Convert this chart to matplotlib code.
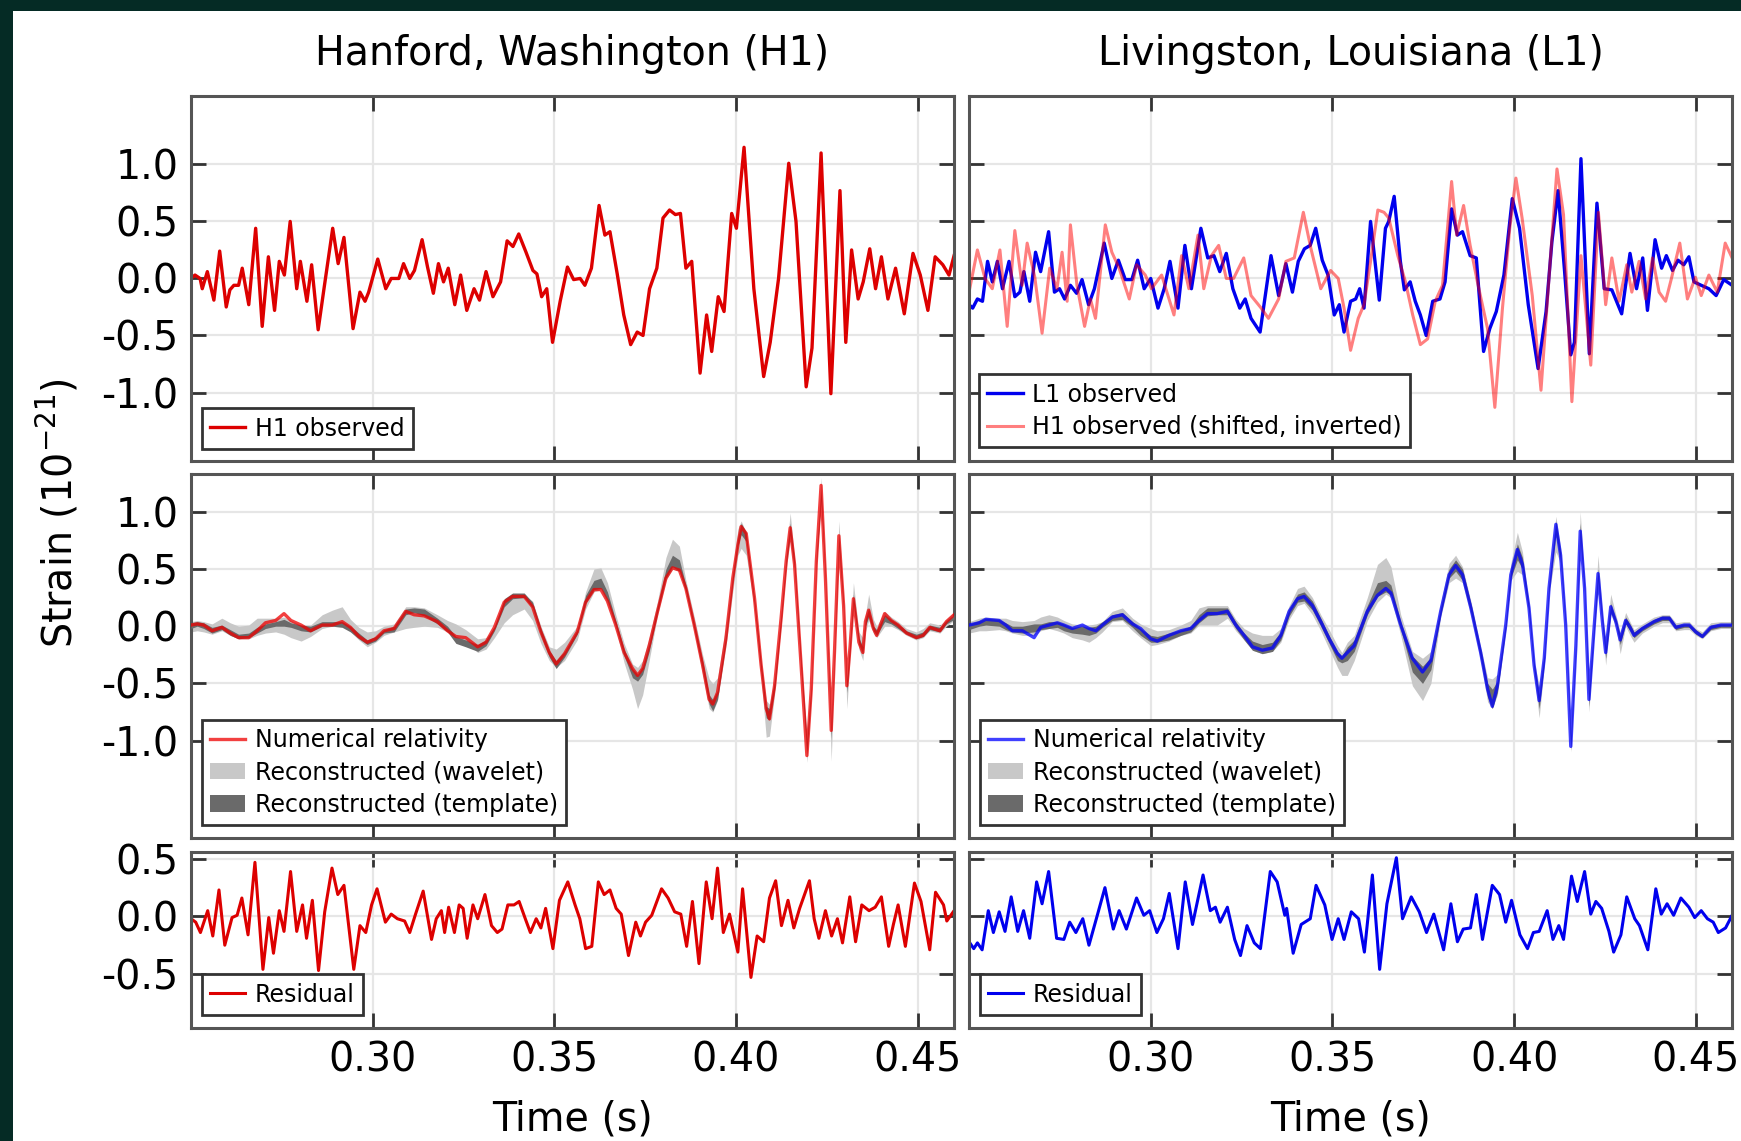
import numpy as np
import matplotlib
matplotlib.use('Agg')
import matplotlib.pyplot as plt
from matplotlib.patches import Rectangle
from matplotlib.ticker import FormatStrFormatter

plt.rcParams['font.family'] = ['DejaVu Sans']
plt.rcParams['axes.unicode_minus'] = False

# ---------------- data (strain in 1e-21, time in s) ----------------
titles = ['Hanford, Washington (H1)', 'Livingston, Louisiana (L1)']
xticks = [0.30, 0.35, 0.40, 0.45]

# top left: H1 observed
h1_obs_t = [0.2500, 0.2511, 0.2525, 0.2531, 0.2545, 0.2563, 0.2579, 0.2597, 0.2607, 0.2618,
            0.2631, 0.2641, 0.2659, 0.2678, 0.2696, 0.2713, 0.2730, 0.2743, 0.2757, 0.2773,
            0.2791, 0.2801, 0.2819, 0.2832, 0.2850, 0.2866, 0.2890, 0.2905, 0.2921, 0.2946,
            0.2965, 0.2979, 0.2989, 0.3014, 0.3036, 0.3051, 0.3072, 0.3085, 0.3102, 0.3115,
            0.3136, 0.3151, 0.3167, 0.3181, 0.3195, 0.3208, 0.3226, 0.3242, 0.3259, 0.3279,
            0.3294, 0.3312, 0.3331, 0.3352, 0.3370, 0.3386, 0.3402, 0.3422, 0.3441, 0.3452,
            0.3465, 0.3479, 0.3495, 0.3516, 0.3536, 0.3553, 0.3571, 0.3584, 0.3602, 0.3623,
            0.3639, 0.3653, 0.3673, 0.3691, 0.3710, 0.3728, 0.3744, 0.3762, 0.3782, 0.3799,
            0.3817, 0.3833, 0.3847, 0.3862, 0.3878, 0.3901, 0.3919, 0.3933, 0.3951, 0.3967,
            0.3988, 0.4001, 0.4022, 0.4049, 0.4076, 0.4094, 0.4117, 0.4145, 0.4165, 0.4193,
            0.4209, 0.4234, 0.4261, 0.4286, 0.4302, 0.4318, 0.4336, 0.4350, 0.4368, 0.4384,
            0.4400, 0.4418, 0.4439, 0.4463, 0.4487, 0.4507, 0.4528, 0.4548, 0.4569, 0.4586,
            0.4600]
h1_obs = [0.00, 0.03, 0.00, -0.09, 0.06, -0.19, 0.24, -0.25, -0.10, -0.06,
          -0.06, 0.09, -0.23, 0.44, -0.42, 0.19, -0.28, 0.15, 0.03, 0.50,
          -0.09, 0.15, -0.20, 0.12, -0.45, -0.09, 0.44, 0.13, 0.36, -0.44,
          -0.12, -0.20, -0.12, 0.17, -0.09, 0.00, 0.00, 0.13, 0.00, 0.07,
          0.34, 0.10, -0.13, 0.13, -0.03, 0.09, -0.23, 0.03, -0.28, -0.09,
          -0.19, 0.06, -0.16, -0.03, 0.33, 0.28, 0.39, 0.23, 0.07, 0.04,
          -0.16, -0.09, -0.56, -0.20, 0.10, -0.01, 0.00, -0.06, 0.09, 0.64,
          0.38, 0.41, 0.04, -0.32, -0.58, -0.47, -0.50, -0.09, 0.09, 0.53,
          0.60, 0.56, 0.57, 0.09, 0.15, -0.83, -0.32, -0.64, -0.16, -0.29,
          0.57, 0.44, 1.15, -0.09, -0.86, -0.56, 0.00, 1.01, 0.50, -0.95,
          -0.61, 1.10, -1.01, 0.77, -0.56, 0.25, -0.18, -0.03, 0.26, -0.09,
          0.19, -0.18, 0.09, -0.31, 0.22, 0.03, -0.28, 0.19, 0.12, 0.03,
          0.20]

# top right: L1 observed
l1_obs_t = [0.2500, 0.2510, 0.2523, 0.2537, 0.2551, 0.2564, 0.2578, 0.2592, 0.2610, 0.2626,
            0.2640, 0.2651, 0.2667, 0.2683, 0.2697, 0.2719, 0.2735, 0.2749, 0.2763, 0.2779,
            0.2796, 0.2811, 0.2829, 0.2845, 0.2872, 0.2893, 0.2911, 0.2930, 0.2948, 0.2964,
            0.2982, 0.3000, 0.3020, 0.3037, 0.3053, 0.3075, 0.3094, 0.3112, 0.3138, 0.3157,
            0.3174, 0.3190, 0.3208, 0.3226, 0.3245, 0.3260, 0.3276, 0.3301, 0.3313, 0.3331,
            0.3352, 0.3372, 0.3390, 0.3406, 0.3423, 0.3439, 0.3454, 0.3472, 0.3488, 0.3505,
            0.3519, 0.3532, 0.3550, 0.3564, 0.3575, 0.3587, 0.3605, 0.3629, 0.3646, 0.3655,
            0.3670, 0.3687, 0.3698, 0.3714, 0.3728, 0.3742, 0.3758, 0.3776, 0.3796, 0.3810,
            0.3828, 0.3844, 0.3858, 0.3879, 0.3896, 0.3916, 0.3933, 0.3951, 0.3972, 0.3995,
            0.4015, 0.4039, 0.4066, 0.4088, 0.4104, 0.4121, 0.4139, 0.4156, 0.4166, 0.4184,
            0.4207, 0.4228, 0.4248, 0.4269, 0.4296, 0.4319, 0.4337, 0.4354, 0.4367, 0.4388,
            0.4406, 0.4419, 0.4436, 0.4451, 0.4467, 0.4481, 0.4495, 0.4515, 0.4536, 0.4556,
            0.4577, 0.4600]
l1_obs = [-0.23, -0.26, -0.18, -0.20, 0.15, -0.03, 0.15, -0.09, 0.15, -0.16,
          -0.12, 0.06, -0.20, 0.23, 0.06, 0.41, -0.12, -0.09, -0.18, -0.06,
          -0.13, -0.01, -0.23, -0.09, 0.31, 0.00, 0.16, -0.01, -0.01, 0.16,
          -0.09, 0.00, -0.26, -0.09, 0.15, -0.26, 0.29, -0.09, 0.44, 0.18,
          0.20, 0.06, 0.22, -0.09, -0.26, -0.18, -0.35, -0.47, -0.20, 0.20,
          -0.15, 0.13, -0.12, 0.15, 0.26, 0.29, 0.44, 0.16, 0.03, -0.32,
          -0.23, -0.47, -0.20, -0.18, -0.09, -0.26, 0.50, -0.19, 0.44, 0.50,
          0.72, 0.15, -0.10, -0.03, -0.20, -0.32, -0.50, -0.20, -0.18, -0.03,
          0.61, 0.38, 0.41, 0.20, 0.18, -0.64, -0.44, -0.29, 0.03, 0.70,
          0.44, -0.23, -0.79, -0.29, 0.32, 0.77, 0.06, -0.67, -0.56, 1.05,
          -0.66, 0.66, -0.09, -0.10, -0.31, 0.22, -0.09, 0.18, -0.28, 0.34,
          0.09, 0.20, 0.07, 0.16, 0.12, 0.19, -0.03, -0.06, -0.09, -0.15,
          -0.01, -0.06]

# top right: H1 observed, shifted and inverted
h1_shift_t = [0.2500, 0.2523, 0.2544, 0.2564, 0.2585, 0.2605, 0.2626, 0.2646, 0.2660, 0.2681,
              0.2701, 0.2722, 0.2742, 0.2756, 0.2770, 0.2779, 0.2797, 0.2818, 0.2834, 0.2848,
              0.2875, 0.2893, 0.2913, 0.2941, 0.2961, 0.2985, 0.3002, 0.3030, 0.3064, 0.3085,
              0.3105, 0.3130, 0.3146, 0.3167, 0.3187, 0.3208, 0.3228, 0.3256, 0.3276, 0.3304,
              0.3324, 0.3352, 0.3372, 0.3395, 0.3420, 0.3441, 0.3468, 0.3495, 0.3516, 0.3532,
              0.3550, 0.3571, 0.3587, 0.3605, 0.3625, 0.3642, 0.3655, 0.3680, 0.3701, 0.3721,
              0.3742, 0.3762, 0.3783, 0.3803, 0.3828, 0.3842, 0.3861, 0.3879, 0.3899, 0.3927,
              0.3947, 0.3968, 0.3988, 0.4005, 0.4022, 0.4050, 0.4074, 0.4098, 0.4118, 0.4136,
              0.4159, 0.4184, 0.4211, 0.4232, 0.4252, 0.4269, 0.4289, 0.4310, 0.4324, 0.4344,
              0.4362, 0.4381, 0.4399, 0.4417, 0.4433, 0.4456, 0.4477, 0.4499, 0.4515, 0.4536,
              0.4559, 0.4581, 0.4600]
h1_shift = [-0.12, 0.25, 0.00, -0.09, 0.25, -0.42, 0.42, -0.06, 0.31, 0.01,
            -0.48, 0.09, -0.09, 0.23, -0.20, 0.47, -0.06, -0.42, -0.18, -0.35,
            0.47, 0.23, 0.09, -0.18, 0.12, 0.03, -0.09, 0.03, -0.32, 0.20,
            -0.09, 0.38, -0.09, 0.20, 0.29, 0.00, 0.00, 0.18, -0.15, -0.26,
            -0.35, -0.18, 0.15, 0.18, 0.58, 0.26, -0.09, 0.07, 0.00, -0.26,
            -0.63, -0.35, -0.23, 0.15, 0.60, 0.58, 0.53, 0.20, -0.03, -0.32,
            -0.58, -0.53, -0.20, -0.06, 0.85, 0.38, 0.64, 0.29, -0.03, -0.44,
            -1.13, -0.26, 0.44, 0.88, 0.53, -0.15, -0.98, 0.09, 0.96, 0.56,
            -1.08, 0.20, -0.76, 0.58, -0.23, 0.18, -0.20, 0.12, -0.12, 0.15,
            -0.18, 0.18, -0.12, -0.20, 0.00, 0.31, -0.18, 0.01, -0.15, 0.03,
            -0.12, 0.31, 0.18]

# middle left: H1 numerical relativity + reconstructions (upper / lower edges)
h1_nr_t = [0.2500, 0.2517, 0.2535, 0.2558, 0.2585, 0.2608, 0.2631, 0.2659, 0.2682, 0.2705,
           0.2733, 0.2756, 0.2775, 0.2803, 0.2829, 0.2861, 0.2889, 0.2916, 0.2939, 0.2962,
           0.2985, 0.3008, 0.3031, 0.3059, 0.3091, 0.3114, 0.3142, 0.3178, 0.3206, 0.3229,
           0.3256, 0.3289, 0.3312, 0.3335, 0.3362, 0.3385, 0.3417, 0.3440, 0.3463, 0.3486,
           0.3505, 0.3528, 0.3563, 0.3586, 0.3609, 0.3628, 0.3646, 0.3669, 0.3692, 0.3715,
           0.3729, 0.3743, 0.3761, 0.3784, 0.3807, 0.3825, 0.3844, 0.3862, 0.3885, 0.3908,
           0.3926, 0.3936, 0.3949, 0.3972, 0.3991, 0.4005, 0.4014, 0.4028, 0.4051, 0.4069,
           0.4083, 0.4092, 0.4106, 0.4124, 0.4138, 0.4149, 0.4161, 0.4179, 0.4195, 0.4207,
           0.4221, 0.4234, 0.4246, 0.4262, 0.4271, 0.4283, 0.4296, 0.4305, 0.4314, 0.4323,
           0.4338, 0.4349, 0.4356, 0.4365, 0.4378, 0.4387, 0.4409, 0.4427, 0.4446, 0.4469,
           0.4496, 0.4515, 0.4533, 0.4561, 0.4579, 0.4600]
h1_nr = [0.01, 0.02, 0.01, -0.04, -0.01, -0.06, -0.10, -0.10, -0.04, 0.03,
         0.05, 0.11, 0.05, 0.01, -0.04, 0.01, 0.01, 0.04, -0.01, -0.09,
         -0.14, -0.11, -0.04, -0.02, 0.13, 0.10, 0.09, 0.04, -0.04, -0.09,
         -0.10, -0.18, -0.14, -0.01, 0.21, 0.26, 0.26, 0.17, -0.05, -0.23,
         -0.33, -0.24, -0.05, 0.21, 0.32, 0.32, 0.22, 0.01, -0.23, -0.37,
         -0.43, -0.37, -0.17, 0.13, 0.42, 0.51, 0.49, 0.33, 0.01, -0.34,
         -0.64, -0.68, -0.58, -0.11, 0.42, 0.71, 0.87, 0.81, 0.24, -0.34,
         -0.72, -0.81, -0.52, 0.07, 0.57, 0.86, 0.54, -0.34, -1.13, -0.55,
         0.57, 1.23, 0.42, -0.91, -0.22, 0.79, 0.18, -0.52, -0.17, 0.24,
         -0.14, -0.23, 0.04, 0.14, -0.02, -0.08, 0.11, 0.05, 0.01, -0.06,
         -0.10, -0.08, -0.01, -0.04, 0.04, 0.10]
h1_wav_hi = [0.04, 0.05, 0.04, 0.02, 0.07, 0.03, 0.00, 0.01, 0.07, 0.07,
             0.07, 0.08, 0.05, 0.01, 0.01, 0.10, 0.14, 0.17, 0.06, -0.01,
             -0.05, -0.04, 0.00, 0.02, 0.17, 0.17, 0.16, 0.10, 0.05, 0.02,
             -0.03, -0.11, -0.10, -0.02, 0.21, 0.26, 0.27, 0.22, 0.00, -0.18,
             -0.20, -0.14, 0.00, 0.30, 0.50, 0.51, 0.38, 0.10, -0.15, -0.33,
             -0.36, -0.30, -0.10, 0.22, 0.60, 0.76, 0.70, 0.40, 0.08, -0.25,
             -0.46, -0.50, -0.45, 0.00, 0.48, 0.85, 0.92, 0.82, 0.25, -0.30,
             -0.65, -0.68, -0.45, 0.12, 0.62, 0.99, 0.60, -0.28, -0.93, -0.50,
             0.62, 1.30, 0.48, -0.84, -0.18, 0.92, 0.22, -0.46, -0.10, 0.38,
             -0.05, -0.10, 0.10, 0.28, 0.06, 0.00, 0.13, 0.08, 0.04, -0.02,
             -0.05, -0.02, 0.03, 0.01, 0.06, 0.12]
h1_wav_lo = [-0.05, -0.04, -0.05, -0.07, -0.04, -0.08, -0.11, -0.11, -0.08, -0.06,
             -0.05, -0.07, -0.10, -0.13, -0.09, -0.02, 0.00, 0.03, -0.05, -0.12,
             -0.18, -0.14, -0.08, -0.05, -0.02, -0.01, 0.00, -0.01, -0.05, -0.10,
             -0.13, -0.23, -0.20, -0.10, 0.03, 0.10, 0.15, 0.05, -0.15, -0.30,
             -0.36, -0.30, -0.12, 0.15, 0.30, 0.32, 0.20, -0.02, -0.32, -0.55,
             -0.72, -0.60, -0.30, 0.10, 0.40, 0.50, 0.48, 0.30, -0.04, -0.42,
             -0.72, -0.75, -0.65, -0.18, 0.30, 0.62, 0.68, 0.62, 0.15, -0.45,
             -0.97, -0.96, -0.60, 0.00, 0.50, 0.75, 0.48, -0.40, -1.19, -0.62,
             0.52, 1.06, 0.38, -1.18, -0.30, 0.60, 0.12, -0.72, -0.25, 0.18,
             -0.20, -0.30, -0.05, 0.05, -0.06, -0.10, 0.00, 0.00, -0.03, -0.08,
             -0.12, -0.10, -0.04, -0.06, 0.00, 0.05]
h1_tmp_hi = [0.03, 0.04, 0.03, -0.01, 0.01, -0.03, -0.07, -0.06, -0.01, 0.02,
             0.04, 0.06, 0.03, 0.01, 0.00, 0.04, 0.04, 0.04, 0.00, -0.06,
             -0.12, -0.09, -0.03, 0.00, 0.15, 0.16, 0.15, 0.07, 0.00, -0.09,
             -0.12, -0.16, -0.12, 0.00, 0.24, 0.29, 0.29, 0.21, -0.02, -0.21,
             -0.30, -0.22, -0.03, 0.27, 0.40, 0.42, 0.30, 0.05, -0.20, -0.37,
             -0.42, -0.35, -0.15, 0.18, 0.50, 0.62, 0.58, 0.36, 0.02, -0.30,
             -0.60, -0.64, -0.56, -0.08, 0.45, 0.78, 0.90, 0.82, 0.23, -0.32,
             -0.70, -0.72, -0.48, 0.10, 0.60, 0.90, 0.58, -0.30, -1.00, -0.52,
             0.60, 1.20, 0.45, -0.88, -0.20, 0.80, 0.20, -0.48, -0.12, 0.28,
             -0.10, -0.18, 0.06, 0.16, 0.00, -0.03, 0.10, 0.06, 0.02, -0.04,
             -0.07, -0.05, 0.01, -0.01, 0.05, 0.10]
h1_tmp_lo = [-0.02, 0.00, -0.02, -0.06, -0.03, -0.08, -0.11, -0.10, -0.06, -0.02,
             0.00, 0.00, -0.01, -0.04, -0.05, 0.00, 0.00, -0.01, -0.05, -0.11,
             -0.16, -0.13, -0.06, -0.05, 0.10, 0.12, 0.09, 0.02, -0.05, -0.15,
             -0.18, -0.22, -0.17, -0.04, 0.17, 0.24, 0.25, 0.16, -0.08, -0.27,
             -0.37, -0.27, -0.07, 0.20, 0.32, 0.33, 0.22, 0.00, -0.26, -0.45,
             -0.48, -0.42, -0.22, 0.12, 0.42, 0.52, 0.48, 0.30, -0.03, -0.38,
             -0.68, -0.74, -0.64, -0.14, 0.38, 0.70, 0.80, 0.74, 0.18, -0.40,
             -0.80, -0.82, -0.56, 0.03, 0.54, 0.80, 0.50, -0.38, -1.12, -0.58,
             0.54, 1.10, 0.40, -0.98, -0.25, 0.70, 0.15, -0.58, -0.20, 0.20,
             -0.16, -0.24, 0.00, 0.08, -0.04, -0.08, 0.04, 0.02, -0.02, -0.07,
             -0.11, -0.09, -0.03, -0.05, 0.02, 0.06]

# middle right: L1 numerical relativity + reconstructions
l1_nr_t = [0.2500, 0.2528, 0.2546, 0.2583, 0.2601, 0.2619, 0.2647, 0.2679, 0.2697, 0.2720,
           0.2743, 0.2761, 0.2784, 0.2812, 0.2830, 0.2849, 0.2867, 0.2894, 0.2922, 0.2950,
           0.2972, 0.3000, 0.3018, 0.3050, 0.3083, 0.3110, 0.3133, 0.3156, 0.3183, 0.3211,
           0.3234, 0.3257, 0.3280, 0.3307, 0.3335, 0.3358, 0.3381, 0.3404, 0.3422, 0.3445,
           0.3468, 0.3491, 0.3514, 0.3526, 0.3541, 0.3560, 0.3596, 0.3624, 0.3647, 0.3661,
           0.3688, 0.3720, 0.3748, 0.3771, 0.3798, 0.3821, 0.3839, 0.3858, 0.3881, 0.3908,
           0.3927, 0.3940, 0.3954, 0.3977, 0.3991, 0.4009, 0.4023, 0.4041, 0.4055, 0.4069,
           0.4083, 0.4096, 0.4115, 0.4128, 0.4142, 0.4156, 0.4170, 0.4182, 0.4194, 0.4206,
           0.4218, 0.4231, 0.4243, 0.4252, 0.4266, 0.4280, 0.4292, 0.4307, 0.4319, 0.4330,
           0.4353, 0.4385, 0.4408, 0.4427, 0.4445, 0.4468, 0.4482, 0.4500, 0.4518, 0.4541,
           0.4569, 0.4600]
l1_nr = [0.01, 0.03, 0.06, 0.05, 0.01, -0.04, -0.04, -0.10, -0.01, 0.01,
         0.03, 0.01, -0.02, 0.01, -0.02, -0.04, 0.01, 0.08, 0.10, 0.02,
         -0.02, -0.11, -0.13, -0.08, -0.04, -0.02, 0.05, 0.11, 0.11, 0.13,
         0.01, -0.08, -0.18, -0.21, -0.19, -0.08, 0.13, 0.24, 0.26, 0.18,
         0.04, -0.11, -0.24, -0.28, -0.23, -0.17, 0.13, 0.27, 0.33, 0.29,
         0.01, -0.28, -0.40, -0.30, 0.13, 0.45, 0.53, 0.45, 0.16, -0.23,
         -0.55, -0.70, -0.52, 0.01, 0.45, 0.67, 0.54, 0.16, -0.34, -0.65,
         -0.28, 0.33, 0.89, 0.62, 0.01, -1.05, -0.17, 0.83, 0.33, -0.64,
         -0.11, 0.46, 0.04, -0.23, 0.17, 0.04, -0.12, 0.05, -0.01, -0.08,
         -0.02, 0.04, 0.07, 0.07, -0.01, 0.01, 0.01, -0.05, -0.09, -0.01,
         0.01, 0.01]
l1_wav_hi = [0.04, 0.07, 0.08, 0.07, 0.07, 0.05, 0.04, 0.05, 0.08, 0.10,
             0.08, 0.05, 0.02, 0.01, 0.01, 0.02, 0.04, 0.13, 0.16, 0.07,
             0.02, -0.02, -0.04, -0.03, 0.01, 0.05, 0.16, 0.18, 0.18, 0.18,
             0.06, -0.02, -0.06, -0.08, -0.08, -0.02, 0.18, 0.33, 0.35, 0.25,
             0.10, -0.03, -0.17, -0.23, -0.14, -0.08, 0.25, 0.54, 0.60, 0.52,
             0.10, -0.22, -0.28, -0.22, 0.20, 0.55, 0.62, 0.52, 0.22, -0.18,
             -0.45, -0.46, -0.42, 0.06, 0.55, 0.82, 0.65, 0.20, -0.30, -0.52,
             -0.22, 0.40, 0.96, 0.68, 0.05, -0.93, -0.12, 1.00, 0.38, -0.46,
             -0.06, 0.62, 0.10, -0.11, 0.28, 0.10, -0.05, 0.12, 0.04, -0.03,
             0.02, 0.08, 0.10, 0.10, 0.03, 0.04, 0.04, -0.02, -0.05, 0.03,
             0.04, 0.04]
l1_wav_lo = [-0.06, -0.04, -0.04, -0.03, -0.04, -0.06, -0.08, -0.08, -0.04, -0.02,
             -0.04, -0.06, -0.10, -0.12, -0.14, -0.10, -0.05, 0.04, 0.05, -0.04,
             -0.10, -0.17, -0.16, -0.13, -0.08, -0.06, 0.01, 0.01, 0.01, 0.07,
             -0.04, -0.12, -0.21, -0.24, -0.22, -0.14, 0.06, 0.18, 0.20, 0.10,
             -0.04, -0.20, -0.36, -0.43, -0.43, -0.30, 0.05, 0.21, 0.28, 0.25,
             -0.08, -0.52, -0.65, -0.50, 0.08, 0.38, 0.42, 0.38, 0.10, -0.30,
             -0.66, -0.72, -0.60, -0.04, 0.40, 0.48, 0.45, 0.10, -0.42, -0.80,
             -0.35, 0.28, 0.65, 0.55, -0.04, -1.10, -0.22, 0.71, 0.28, -0.75,
             -0.16, 0.33, 0.00, -0.34, 0.10, 0.00, -0.24, 0.00, -0.08, -0.14,
             -0.06, 0.00, 0.03, 0.03, -0.04, -0.03, -0.03, -0.08, -0.11, -0.04,
             -0.02, -0.02]
l1_tmp_hi = [0.02, 0.05, 0.07, 0.06, 0.03, 0.00, 0.00, 0.02, 0.02, 0.04,
             0.04, 0.02, -0.01, 0.00, -0.01, 0.00, 0.04, 0.10, 0.12, 0.04,
             -0.02, -0.08, -0.09, -0.06, -0.03, 0.00, 0.10, 0.16, 0.16, 0.16,
             0.04, -0.06, -0.13, -0.16, -0.14, -0.05, 0.15, 0.28, 0.30, 0.22,
             0.07, -0.08, -0.22, -0.26, -0.18, -0.12, 0.18, 0.38, 0.40, 0.36,
             0.04, -0.26, -0.35, -0.27, 0.16, 0.50, 0.58, 0.50, 0.20, -0.20,
             -0.50, -0.55, -0.48, 0.03, 0.50, 0.72, 0.60, 0.18, -0.32, -0.60,
             -0.25, 0.36, 0.92, 0.65, 0.03, -0.98, -0.15, 0.90, 0.35, -0.58,
             -0.08, 0.50, 0.06, -0.18, 0.20, 0.06, -0.08, 0.08, 0.02, -0.05,
             0.00, 0.06, 0.09, 0.09, 0.01, 0.02, 0.02, -0.03, -0.07, 0.01,
             0.02, 0.02]
l1_tmp_lo = [-0.03, 0.00, 0.01, 0.00, -0.03, -0.05, -0.06, -0.05, -0.03, -0.02,
             -0.01, -0.04, -0.06, -0.07, -0.08, -0.06, -0.01, 0.05, 0.06, -0.01,
             -0.08, -0.14, -0.14, -0.12, -0.08, -0.05, 0.03, 0.09, 0.10, 0.10,
             -0.02, -0.12, -0.21, -0.24, -0.22, -0.12, 0.09, 0.21, 0.22, 0.14,
             0.00, -0.15, -0.30, -0.32, -0.30, -0.22, 0.10, 0.26, 0.30, 0.27,
             -0.03, -0.40, -0.50, -0.38, 0.10, 0.42, 0.48, 0.40, 0.12, -0.28,
             -0.62, -0.72, -0.58, -0.02, 0.42, 0.58, 0.50, 0.12, -0.38, -0.72,
             -0.32, 0.30, 0.80, 0.58, -0.02, -1.08, -0.20, 0.78, 0.30, -0.70,
             -0.14, 0.40, 0.02, -0.28, 0.12, 0.02, -0.16, 0.02, -0.04, -0.10,
             -0.04, 0.02, 0.05, 0.05, -0.03, -0.01, -0.01, -0.07, -0.10, -0.03,
             -0.01, -0.01]

# bottom: residuals
h1_res_t = [0.2500, 0.2513, 0.2526, 0.2546, 0.2560, 0.2577, 0.2593, 0.2613, 0.2627, 0.2640,
            0.2657, 0.2676, 0.2698, 0.2714, 0.2727, 0.2743, 0.2756, 0.2774, 0.2791, 0.2807,
            0.2818, 0.2834, 0.2851, 0.2868, 0.2888, 0.2904, 0.2921, 0.2948, 0.2965, 0.2981,
            0.2997, 0.3012, 0.3035, 0.3051, 0.3068, 0.3088, 0.3102, 0.3118, 0.3139, 0.3162,
            0.3175, 0.3189, 0.3198, 0.3209, 0.3225, 0.3238, 0.3249, 0.3260, 0.3276, 0.3289,
            0.3309, 0.3327, 0.3343, 0.3356, 0.3372, 0.3389, 0.3403, 0.3420, 0.3434, 0.3450,
            0.3463, 0.3476, 0.3496, 0.3514, 0.3537, 0.3557, 0.3570, 0.3586, 0.3603, 0.3621,
            0.3637, 0.3653, 0.3670, 0.3684, 0.3704, 0.3724, 0.3737, 0.3751, 0.3768, 0.3795,
            0.3813, 0.3831, 0.3848, 0.3864, 0.3880, 0.3898, 0.3918, 0.3934, 0.3949, 0.3965,
            0.3982, 0.4005, 0.4018, 0.4041, 0.4058, 0.4076, 0.4092, 0.4109, 0.4125, 0.4143,
            0.4159, 0.4175, 0.4202, 0.4215, 0.4228, 0.4246, 0.4263, 0.4279, 0.4293, 0.4313,
            0.4329, 0.4346, 0.4366, 0.4383, 0.4400, 0.4420, 0.4433, 0.4446, 0.4466, 0.4491,
            0.4509, 0.4533, 0.4549, 0.4571, 0.4580, 0.4600]
h1_res = [-0.02, -0.05, -0.14, 0.05, -0.17, 0.23, -0.25, -0.01, 0.01, 0.16,
          -0.16, 0.47, -0.46, -0.01, -0.32, 0.05, -0.13, 0.39, -0.13, 0.10,
          -0.19, 0.14, -0.47, 0.04, 0.42, 0.19, 0.27, -0.46, -0.08, -0.14,
          0.10, 0.24, -0.05, 0.02, -0.02, -0.04, -0.14, 0.02, 0.22, -0.20,
          -0.02, 0.05, -0.14, 0.08, -0.14, 0.10, 0.07, -0.19, 0.10, -0.02,
          0.19, -0.08, -0.14, -0.11, 0.10, 0.10, 0.13, -0.02, -0.14, -0.02,
          -0.10, 0.07, -0.28, 0.14, 0.30, 0.10, -0.02, -0.28, -0.26, 0.30,
          0.19, 0.23, 0.07, 0.02, -0.34, -0.05, -0.17, -0.05, 0.01, 0.24,
          0.16, 0.04, 0.02, -0.26, 0.13, -0.41, 0.30, -0.02, 0.42, -0.14,
          0.02, -0.31, 0.24, -0.53, -0.17, -0.22, 0.16, 0.31, -0.08, 0.14,
          -0.10, 0.07, 0.31, -0.02, -0.19, 0.05, -0.17, -0.02, -0.23, 0.17,
          -0.22, 0.10, 0.05, 0.08, 0.17, -0.26, -0.07, 0.10, -0.26, 0.29,
          0.13, -0.29, 0.21, 0.10, -0.04, 0.05]

l1_res_t = [0.2500, 0.2513, 0.2523, 0.2536, 0.2553, 0.2567, 0.2583, 0.2599, 0.2616, 0.2634,
            0.2650, 0.2667, 0.2686, 0.2701, 0.2719, 0.2741, 0.2761, 0.2777, 0.2794, 0.2813,
            0.2830, 0.2853, 0.2874, 0.2897, 0.2913, 0.2933, 0.2961, 0.2981, 0.2997, 0.3017,
            0.3035, 0.3051, 0.3075, 0.3095, 0.3115, 0.3144, 0.3164, 0.3178, 0.3191, 0.3211,
            0.3231, 0.3247, 0.3265, 0.3285, 0.3302, 0.3329, 0.3348, 0.3369, 0.3374, 0.3392,
            0.3414, 0.3439, 0.3455, 0.3479, 0.3499, 0.3516, 0.3532, 0.3552, 0.3572, 0.3588,
            0.3610, 0.3630, 0.3650, 0.3676, 0.3693, 0.3717, 0.3739, 0.3759, 0.3779, 0.3806,
            0.3826, 0.3844, 0.3860, 0.3880, 0.3896, 0.3913, 0.3940, 0.3960, 0.3977, 0.3993,
            0.4016, 0.4037, 0.4053, 0.4069, 0.4091, 0.4107, 0.4123, 0.4136, 0.4158, 0.4174,
            0.4194, 0.4211, 0.4225, 0.4241, 0.4261, 0.4274, 0.4294, 0.4310, 0.4332, 0.4345,
            0.4368, 0.4390, 0.4405, 0.4421, 0.4439, 0.4459, 0.4481, 0.4497, 0.4515, 0.4532,
            0.4548, 0.4562, 0.4582, 0.4600]
l1_res = [-0.22, -0.28, -0.23, -0.29, 0.05, -0.14, 0.04, -0.13, 0.17, -0.13,
          0.05, -0.19, 0.30, 0.11, 0.39, -0.19, -0.20, -0.05, -0.14, -0.02,
          -0.25, 0.01, 0.25, -0.11, 0.05, -0.11, 0.16, 0.01, 0.05, -0.14,
          -0.02, 0.20, -0.28, 0.30, -0.07, 0.36, 0.05, 0.08, -0.05, 0.08,
          -0.20, -0.34, -0.08, -0.23, -0.28, 0.39, 0.30, 0.01, 0.07, -0.32,
          -0.07, -0.02, 0.27, 0.10, -0.20, -0.02, -0.20, 0.04, -0.02, -0.31,
          0.36, -0.46, 0.11, 0.51, -0.02, 0.17, 0.04, -0.14, 0.02, -0.29,
          0.11, -0.22, -0.11, -0.10, 0.19, -0.20, 0.27, 0.19, -0.05, 0.14,
          -0.16, -0.28, -0.14, -0.13, 0.05, -0.20, -0.08, -0.20, 0.35, 0.13,
          0.39, 0.02, 0.13, 0.07, -0.13, -0.31, -0.16, 0.17, -0.02, -0.08,
          -0.29, 0.24, 0.02, 0.11, 0.01, 0.16, 0.08, -0.01, 0.05, -0.02,
          -0.05, -0.14, -0.10, 0.01]

# ---------------- figure ----------------
RED = '#dd0000'
BLUE = '#0000ee'

fig = plt.figure(figsize=(17.41, 11.41), dpi=100)
fig.patch.set_facecolor('#052b25')
fig.add_artist(Rectangle((13 / 1741, 0), 1 - 13 / 1741, 1 - 11 / 1141,
                         transform=fig.transFigure, facecolor='white',
                         edgecolor='none', zorder=-10))

lefts = [0.1097, 0.5566]
width = 0.4383
rows = [(0.5960, 0.3199), (0.2656, 0.3190), (0.0990, 0.1543)]
ylims = [(-1.6, 1.6), (-1.85, 1.33), (-0.97, 0.56)]
yticks = [[-1.0, -0.5, 0.0, 0.5, 1.0], [-1.0, -0.5, 0.0, 0.5, 1.0], [-0.5, 0.0, 0.5]]

axes = [[None, None], [None, None], [None, None]]
for r in range(3):
    for c in range(2):
        ax = fig.add_axes([lefts[c], rows[r][0], width, rows[r][1]])
        ax.set_xlim(0.25, 0.46)
        ax.set_ylim(*ylims[r])
        ax.set_xticks(xticks)
        ax.set_yticks(yticks[r])
        ax.xaxis.set_major_formatter(FormatStrFormatter('%.2f'))
        ax.yaxis.set_major_formatter(FormatStrFormatter('%.1f'))
        ax.grid(True, color='#e6e6e6', lw=1.6, zorder=0)
        ax.set_axisbelow(True)
        ax.tick_params(direction='in', length=11, width=2, color='#333333',
                       top=True, right=True, labelsize=28.5, pad=9)
        for s in ax.spines.values():
            s.set_color('#555555')
            s.set_linewidth(2.2)
        if r < 2:
            ax.tick_params(labelbottom=False)
        if c == 1:
            ax.tick_params(labelleft=False)
        axes[r][c] = ax

leg_kw = dict(loc='lower left', fontsize=17, frameon=True, fancybox=False,
              framealpha=1, edgecolor='#333333', borderaxespad=0,
              handlelength=1.5, handletextpad=0.4, borderpad=0.35,
              labelspacing=0.35)

# top row
ax = axes[0][0]
ax.plot(h1_obs_t, h1_obs, color=RED, lw=2.4, label='H1 observed')
lg = ax.legend(bbox_to_anchor=(0.014, 0.033), **leg_kw)
lg.get_frame().set_linewidth(2)

ax = axes[0][1]
ax.plot(l1_obs_t, l1_obs, color=BLUE, lw=2.4, label='L1 observed')
ax.plot(h1_shift_t, h1_shift, color='red', alpha=0.5, lw=2.2,
        label='H1 observed (shifted, inverted)')
lg = ax.legend(bbox_to_anchor=(0.013, 0.038), **leg_kw)
lg.get_frame().set_linewidth(2)

# middle row
for c, (tt, nr, wlo, whi, tlo, thi, col) in enumerate([
        (h1_nr_t, h1_nr, h1_wav_lo, h1_wav_hi, h1_tmp_lo, h1_tmp_hi, '#ee0000'),
        (l1_nr_t, l1_nr, l1_wav_lo, l1_wav_hi, l1_tmp_lo, l1_tmp_hi, '#0000ff')]):
    ax = axes[1][c]
    ax.plot(tt, nr, color=col, alpha=0.75, lw=2.4, zorder=4, label='Numerical relativity')
    ax.fill_between(tt, wlo, whi, color='#c8c8c8', lw=0, zorder=2,
                    label='Reconstructed (wavelet)')
    ax.fill_between(tt, tlo, thi, color='#6a6a6a', lw=0, zorder=3,
                    label='Reconstructed (template)')
    lg = ax.legend(bbox_to_anchor=(0.014, 0.036), **leg_kw)
    lg.get_frame().set_linewidth(2)

# bottom row
for c, (tt, vv, col) in enumerate([(h1_res_t, h1_res, RED), (l1_res_t, l1_res, BLUE)]):
    ax = axes[2][c]
    ax.plot(tt, vv, color=col, lw=2.2, label='Residual')
    lg = ax.legend(bbox_to_anchor=(0.014, 0.074), **leg_kw)
    lg.get_frame().set_linewidth(2)
    ax.set_xlabel('Time (s)', fontsize=28.5, labelpad=14)

for c in range(2):
    axes[0][c].set_title(titles[c], fontsize=28.5, pad=22)

fig.text(58 / 1741, 1 - 513 / 1141, 'Strain (10$^{-21}$)', rotation=90,
         fontsize=28.5, ha='center', va='center')

fig.savefig('out.png', dpi=100, facecolor=fig.get_facecolor())
